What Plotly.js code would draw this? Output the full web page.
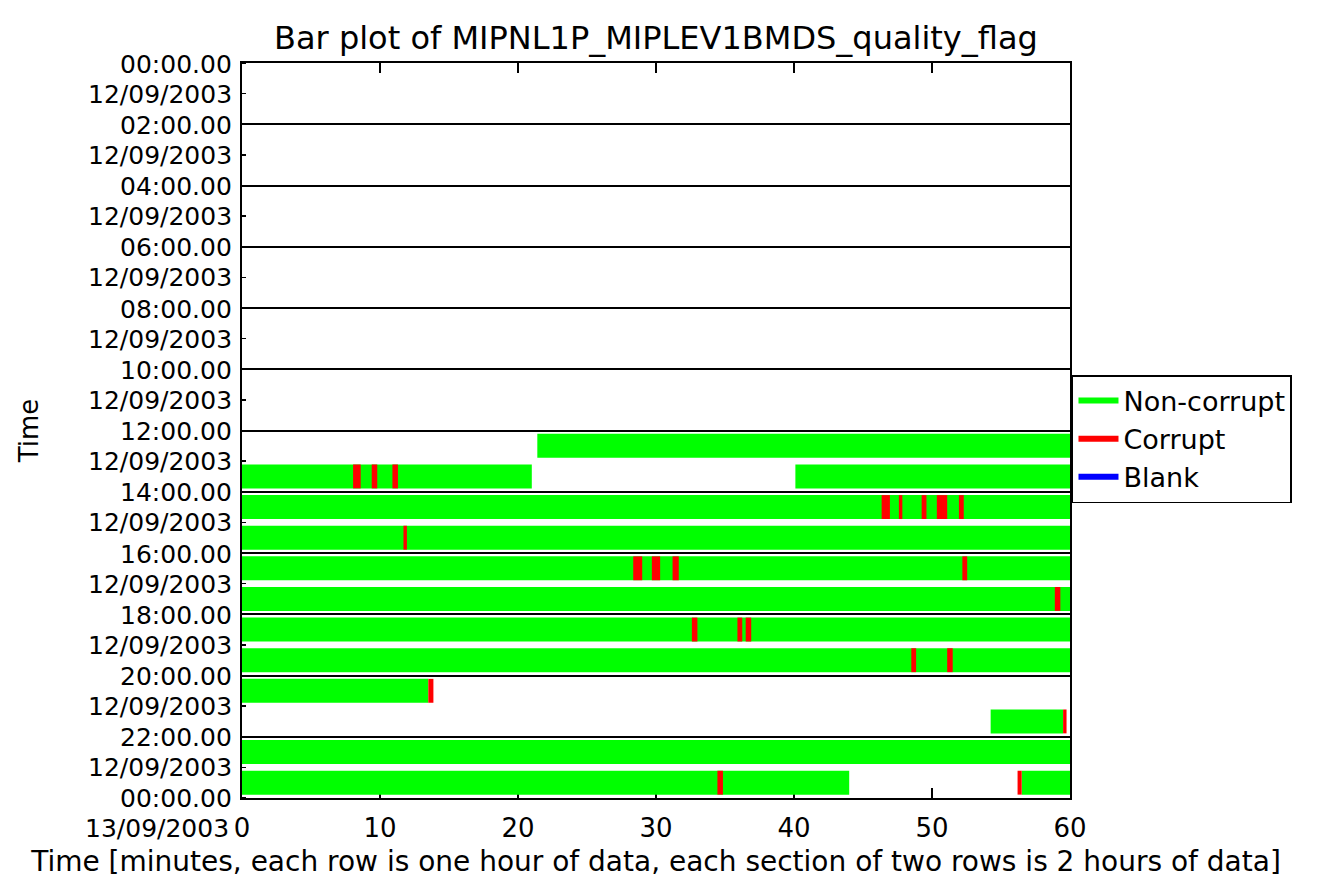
<!DOCTYPE html>
<html>
<head>
<meta charset="utf-8">
<script src="https://cdn.plot.ly/plotly-3.0.1.min.js"></script>
<style>
  html, body { margin: 0; padding: 0; background: #ffffff; }
  #chart { width: 1319px; height: 889px; }
</style>
</head>
<body>
<div id="chart"></div>
<script>
// ---- Data (minutes within each hour row; hour = row index 0..23 of 12/09/2003) ----
const nonCorruptHour  = [12, 13, 13, 14, 15, 16, 17, 18, 19, 20, 21, 22, 23, 23];
const nonCorruptStart = [21.4, 0, 40.1, 0, 0, 0, 0, 0, 0, 0, 54.25, 0, 0, 56.5];
const nonCorruptEnd   = [60, 21.0, 60, 60, 60, 60, 60, 60, 60, 13.5, 59.5, 60, 44.0, 60];

const corruptHour  = [13, 13, 13, 14, 14, 14, 14, 14, 15, 16, 16, 16, 16, 17, 18, 18, 18, 19, 19, 20, 21, 23, 23];
const corruptStart = [8.05, 9.4, 10.9, 46.35, 47.6, 49.25, 50.35, 51.95, 11.7, 28.35, 29.7, 31.2, 52.2, 58.9, 32.6, 35.9, 36.5, 48.5, 51.1, 13.5, 59.5, 34.45, 56.2];
const corruptEnd   = [8.6, 9.8, 11.3, 46.95, 47.85, 49.6, 51.1, 52.3, 11.95, 29.0, 30.3, 31.65, 52.55, 59.3, 33.0, 36.25, 36.9, 48.85, 51.5, 13.87, 59.75, 34.85, 56.5];

const blankHour  = [];
const blankStart = [];
const blankEnd   = [];

const tickHours = [0, 2, 4, 6, 8, 10, 12, 14, 16, 18, 20, 22, 24];
const tickTimes = ['00:00.00','02:00.00','04:00.00','06:00.00','08:00.00','10:00.00','12:00.00','14:00.00','16:00.00','18:00.00','20:00.00','22:00.00','00:00.00'];
const tickDates = ['12/09/2003','12/09/2003','12/09/2003','12/09/2003','12/09/2003','12/09/2003','12/09/2003','12/09/2003','12/09/2003','12/09/2003','12/09/2003','12/09/2003','13/09/2003'];

const xTicks = [0, 10, 20, 30, 40, 50, 60];

const seriesNames = ['Non-corrupt', 'Corrupt', 'Blank'];
const seriesColors = ['#00ff00', '#ff0000', '#0000ff'];

// ---- Build traces ----
const FONT = 'DejaVu Sans, Liberation Sans, Arial, sans-serif';

function barTrace(hours, starts, ends, color, name) {
  return {
    type: 'bar',
    orientation: 'h',
    name: name,
    y: hours.map(h => h + 0.5),
    base: starts,
    x: starts.map((s, i) => ends[i] - s),
    width: 0.78,
    marker: { color: color, line: { width: 0 } },
    showlegend: false,
    hoverinfo: 'skip'
  };
}

const data = [
  barTrace(nonCorruptHour, nonCorruptStart, nonCorruptEnd, seriesColors[0], seriesNames[0]),
  barTrace(corruptHour, corruptStart, corruptEnd, seriesColors[1], seriesNames[1]),
  barTrace(blankHour, blankStart, blankEnd, seriesColors[2], seriesNames[2])
];
// legend entries (line swatches)
seriesNames.forEach((n, i) => {
  data.push({
    type: 'scatter', mode: 'lines', name: n,
    x: [null], y: [null],
    line: { color: seriesColors[i], width: 6 },
    showlegend: true, hoverinfo: 'skip'
  });
});

// ---- y tick labels as annotations (time line at the tick, date line below) ----
const annotations = [];
tickHours.forEach((h, i) => {
  const last = i === tickHours.length - 1;
  const tShift = last ? 0 : -1;
  const dShift = last ? -30 : -31;
  annotations.push({
    xref: 'paper', yref: 'y', x: 0, y: h, xanchor: 'right', yanchor: 'middle',
    xshift: -8, yshift: tShift, text: tickTimes[i], showarrow: false,
    font: { family: FONT, size: 25, color: '#000' }
  });
  annotations.push({
    xref: 'paper', yref: 'y', x: 0, y: h, xanchor: 'right', yanchor: 'middle',
    xshift: last ? -11 : -8, yshift: dShift, text: tickDates[i], showarrow: false,
    font: { family: FONT, size: 25, color: '#000' }
  });
});

const layout = {
  width: 1319, height: 889,
  paper_bgcolor: '#ffffff', plot_bgcolor: '#ffffff',
  margin: { l: 242, r: 249, t: 63, b: 91, pad: 0 },
  barmode: 'overlay',
  font: { family: FONT, color: '#000' },
  title: {
    text: 'Bar plot of MIPNL1P_MIPLEV1BMDS_quality_flag',
    x: 0.4973, xref: 'container', xanchor: 'center',
    y: 1 - 38 / 889, yref: 'container', yanchor: 'middle',
    font: { family: FONT, size: 32, color: '#000' }
  },
  xaxis: {
    range: [0, 60], tickvals: xTicks, ticktext: xTicks.map(String),
    ticks: 'inside', ticklen: 10, tickwidth: 1.5, tickcolor: '#000',
    showline: true, linecolor: '#000', linewidth: 2, mirror: 'ticks',
    showgrid: false, zeroline: false, layer: 'below traces',
    tickfont: { family: FONT, size: 26, color: '#000' },
    ticklabelstandoff: 6,
    title: {
      text: 'Time [minutes, each row is one hour of data, each section of two rows is 2 hours of data]',
      font: { family: FONT, size: 28, color: '#000' },
      standoff: 9
    },
    fixedrange: true
  },
  yaxis: {
    range: [24, 0], tickvals: tickHours, showticklabels: false,
    ticks: '', showline: true, linecolor: '#000', linewidth: 2, mirror: true,
    showgrid: true, gridcolor: '#000', gridwidth: 2, zeroline: false,
    layer: 'below traces',
    minor: { dtick: 1, ticks: 'inside', ticklen: 4, tickcolor: '#000', tickwidth: 1.5, showgrid: false },
    title: {
      text: 'Time',
      font: { family: FONT, size: 26, color: '#000' },
      standoff: 194
    },
    fixedrange: true
  },
  legend: {
    x: 1.0024, xanchor: 'left', y: 0.5755, yanchor: 'top',
    bgcolor: '#ffffff', bordercolor: '#000', borderwidth: 1.5,
    font: { family: FONT, size: 27, color: '#000' },
    itemwidth: 40, tracegroupgap: 0
  },
  annotations: annotations,
  showlegend: true
};

Plotly.newPlot('chart', data, layout, { displayModeBar: false, staticPlot: true });
</script>
</body>
</html>
